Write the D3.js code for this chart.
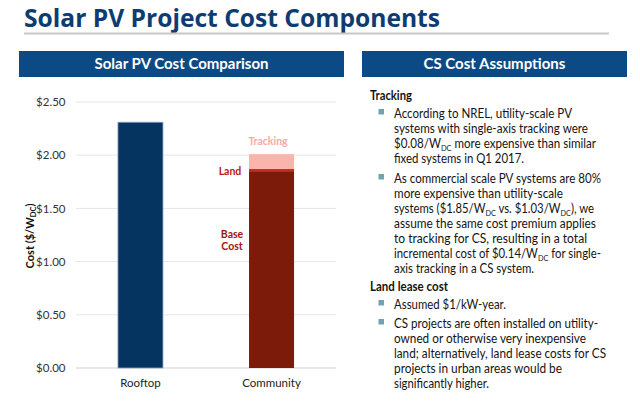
<!DOCTYPE html>
<html><head><meta charset="utf-8">
<script src="https://cdn.jsdelivr.net/npm/d3@7"></script>
<style>
html,body{margin:0;padding:0;background:#fff;}
svg{display:block;}
</style></head>
<body>
<script>
// ---- data ----
const categories = ["Rooftop", "Community"];
const rooftopValues = [2.31];            // Rooftop total cost ($/Wdc)
const communityComponents = ["Base Cost", "Land", "Tracking"];
const communityValues = [1.85, 0.02, 0.14];
const yTicks = [0, 0.5, 1.0, 1.5, 2.0, 2.5];
const yTickLabels = ["$0.00", "$0.50", "$1.00", "$1.50", "$2.00", "$2.50"];

const W = 640, H = 408;
const svg = d3.select("body").append("svg").attr("width", W).attr("height", H);
const font = "Lato, 'Open Sans', sans-serif";

// Title
svg.append("text").attr("x", 24).attr("y", 27)
  .attr("font-family", "'Open Sans', sans-serif").attr("font-weight", 700)
  .attr("font-size", 25).attr("fill", "#0e3c70")
  .attr("textLength", 416).attr("lengthAdjust", "spacingAndGlyphs")
  .text("Solar PV Project Cost Components");
svg.append("rect").attr("x", 24).attr("y", 32.5).attr("width", 585).attr("height", 2).attr("fill", "#c8c8c4");

// Header bars
const headers = [{x:19, w:325, t:"Solar PV Cost Comparison"}, {x:362, w:265, t:"CS Cost Assumptions"}];
headers.forEach(h => {
  svg.append("rect").attr("x", h.x).attr("y", 51).attr("width", h.w).attr("height", 26).attr("fill", "#0b4a85");
  svg.append("text").attr("x", h.x + h.w/2).attr("y", 69).attr("text-anchor", "middle")
    .attr("font-family", font).attr("font-weight", 700).attr("font-size", 15).attr("fill", "#fff").text(h.t);
});

// ---- chart ----
const y = d3.scaleLinear().domain([0, 2.5]).range([368, 102]);
const x = d3.scaleBand().domain(categories).range([76, 336]).paddingInner(0.6565).paddingOuter(0.32);

const g = svg.append("g");
// gridlines
g.selectAll("line.grid").data(yTicks).enter().append("line")
  .attr("x1", 76).attr("x2", 336).attr("y1", d => y(d)).attr("y2", d => y(d))
  .attr("stroke", d => d === 0 ? "#d0d0d0" : "#e6e6e6").attr("stroke-width", 1);
// y axis tick labels
const yAxis = d3.axisLeft(y).tickValues(yTicks).tickSize(0).tickPadding(0)
  .tickFormat((d, i) => yTickLabels[i]);
const ya = g.append("g").attr("transform", "translate(65.5,0)").call(yAxis);
ya.select(".domain").remove();
ya.selectAll("text").attr("font-family", font).attr("font-size", 11.5).attr("fill", "#333");

// y axis title
const yt = svg.append("text").attr("transform", "translate(33.5,236) rotate(-90)").attr("text-anchor", "middle")
  .attr("font-family", font).attr("font-weight", 700).attr("font-size", 11).attr("fill", "#111");
yt.append("tspan").text("Cost ($/W");
yt.append("tspan").attr("font-size", 7.5).attr("dy", 2.5).text("DC");
yt.append("tspan").attr("dy", -2.5).text(")");

// Rooftop bar
g.selectAll("rect.roof").data(rooftopValues).enter().append("rect")
  .attr("x", x("Rooftop")).attr("width", x.bandwidth())
  .attr("y", d => y(d)).attr("height", d => y(0) - y(d))
  .attr("fill", "#053461").attr("stroke", "#8ea6c6").attr("stroke-width", 0.8);

// Community stacked
let cum = 0;
const stack = communityValues.map((v, i) => { const s = {name: communityComponents[i], y0: cum, y1: cum + v}; cum += v; return s; });
const compColors = {"Base Cost": "#7d1b0b", "Land": "#c22a1c", "Tracking": "#f9b5ac"};
g.selectAll("rect.comm").data(stack).enter().append("rect")
  .attr("x", x("Community")).attr("width", x.bandwidth())
  .attr("y", d => y(d.y1)).attr("height", d => y(d.y0) - y(d.y1))
  .attr("fill", d => compColors[d.name]);

// Component labels
const lblSize = 10.5;
svg.append("text").attr("x", 268).attr("y", y(cum) - 9).attr("text-anchor", "middle")
  .attr("font-family", font).attr("font-weight", 700).attr("font-size", lblSize).attr("fill", "#f6aca3").text("Tracking");
svg.append("text").attr("x", 230).attr("y", y(communityValues[0] + communityValues[1]) + 6).attr("text-anchor", "middle")
  .attr("font-family", font).attr("font-weight", 700).attr("font-size", lblSize).attr("fill", "#c0180c").text("Land");
const bc = svg.append("text").attr("text-anchor", "middle").attr("font-family", font).attr("font-weight", 700)
  .attr("font-size", lblSize).attr("fill", "#a3140c");
bc.append("tspan").attr("x", 232).attr("y", 238).text("Base");
bc.append("tspan").attr("x", 232).attr("y", 249.5).text("Cost");

// x axis labels
g.selectAll("text.cat").data(categories).enter().append("text")
  .attr("x", d => x(d) + x.bandwidth()/2).attr("y", 387).attr("text-anchor", "middle")
  .attr("font-family", font).attr("font-size", 11.5).attr("fill", "#222").text(d => d);

// ---- right panel text ----
function richLine(sel, parts) {
  let pendingDy = 0;
  parts.forEach(p => {
    if (typeof p === "string") {
      const ts = sel.append("tspan").text(p);
      if (pendingDy) { ts.attr("dy", pendingDy); pendingDy = 0; }
    } else {
      sel.append("tspan").attr("font-size", 8).attr("dy", 2.5).text(p.sub);
      pendingDy = -2.5;
    }
  });
}
const tx = 394, bx = 378.5;
const para = [
  {type: "h", y: 100, w: 42, parts: ["Tracking"]},
  {type: "b", y: 118, w: 178, parts: ["According to NREL, utility-scale PV"]},
  {type: "t", y: 133, w: 194, parts: ["systems with single-axis tracking were"]},
  {type: "t", y: 148, w: 202, parts: ["$0.08/W", {sub: "DC"}, " more expensive than similar"]},
  {type: "t", y: 163, w: 130, parts: ["fixed systems in Q1 2017."]},
  {type: "b", y: 183, w: 207, parts: ["As commercial scale PV systems are 80%"]},
  {type: "t", y: 198, w: 169, parts: ["more expensive than utility-scale"]},
  {type: "t", y: 213, w: 200, parts: ["systems ($1.85/W", {sub: "DC"}, " vs. $1.03/W", {sub: "DC"}, "), we"]},
  {type: "t", y: 228, w: 202, parts: ["assume the same cost premium applies"]},
  {type: "t", y: 243, w: 193, parts: ["to tracking for CS, resulting in a total"]},
  {type: "t", y: 258, w: 207, parts: ["incremental cost of $0.14/W", {sub: "DC"}, " for single-"]},
  {type: "t", y: 273, w: 140, parts: ["axis tracking in a CS system."]},
  {type: "h", y: 291, w: 78, parts: ["Land lease cost"]},
  {type: "b", y: 309, w: 112, parts: ["Assumed $1/kW-year."]},
  {type: "b", y: 328, w: 204, parts: ["CS projects are often installed on utility-"]},
  {type: "t", y: 343, w: 192, parts: ["owned or otherwise very inexpensive"]},
  {type: "t", y: 358, w: 212, parts: ["land; alternatively, land lease costs for CS"]},
  {type: "t", y: 373, w: 168, parts: ["projects in urban areas would be"]},
  {type: "t", y: 388, w: 95, parts: ["significantly higher."]}
];
para.forEach(p => {
  const t = svg.append("text").attr("y", p.y).attr("font-family", font).attr("fill", "#141414")
    .attr("textLength", p.w).attr("lengthAdjust", "spacingAndGlyphs");
  if (p.type === "h") {
    t.attr("x", 370).attr("font-weight", 700).attr("font-size", 12.5);
  } else {
    t.attr("x", tx).attr("font-size", 12.5);
  }
  richLine(t, p.parts);
  if (p.type === "b") {
    svg.append("rect").attr("x", bx).attr("y", p.y - 9).attr("width", 5.5).attr("height", 5.5).attr("fill", "#6fa3b0");
  }
});
</script>
</body></html>
